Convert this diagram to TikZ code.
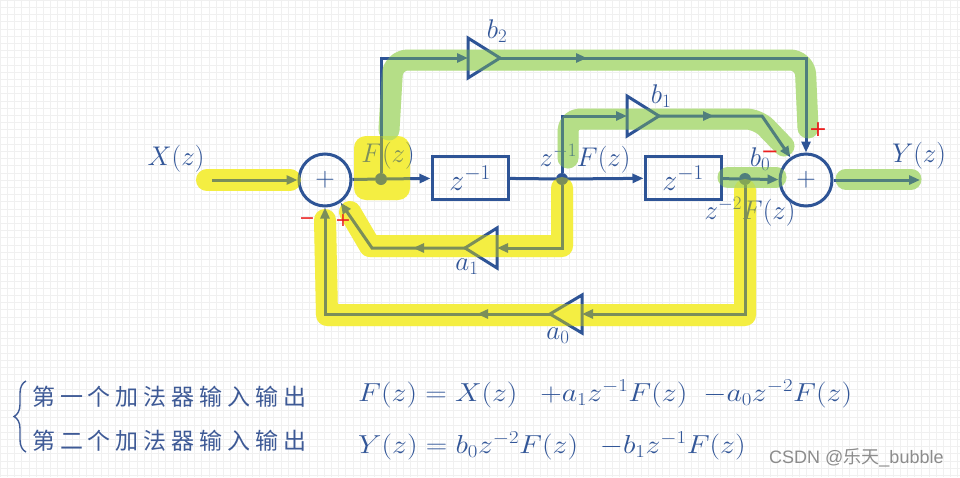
\RequirePackage{fix-cm}
\documentclass[tikz,border=0pt]{standalone}
\usepackage{fontspec}
\newfontfamily\cjk{Noto Sans CJK SC}
\newfontfamily\wmfont{Liberation Sans}
\newfontfamily\djv{DejaVu Sans}
\usetikzlibrary{arrows.meta,decorations.markings,decorations.pathreplacing,calc}
\definecolor{lb}{RGB}{46,84,150}
\definecolor{tb}{RGB}{50,86,152}
\definecolor{hyu}{RGB}{247,244,110}
\definecolor{hyo}{RGB}{240,230,0}
\definecolor{hgu}{RGB}{200,230,165}
\definecolor{hgo}{RGB}{146,208,80}
\definecolor{rd}{RGB}{235,30,30}
\definecolor{ct}{RGB}{62,90,150}
\definecolor{gridc}{RGB}{240,240,240}
\newcommand\gapc{\hspace{4.9pt}}
% highlight paths, drawn once under and once over the signal lines
\newcommand\yellowpaths[2]{%
  \draw[draw=#1,opacity=#2,line width=22pt,line cap=round,line join=round] (207,180) -- (290,180);
  \fill[#1,opacity=#2,rounded corners=12pt] (354,136) rectangle (410,200);
  \draw[draw=#1,opacity=#2,line width=22pt,line cap=round,line join=round] (562,188) -- (562,246) -- (370,246) -- (350,212);
  \draw[draw=#1,opacity=#2,line width=22pt,line cap=round,line join=round] (745,190) -- (745,315) -- (327,315) -- (325,220);}
\newcommand\greenpaths[2]{%
  \draw[draw=#1,opacity=#2,line width=21pt,line cap=round,line join=round,rounded corners=15pt] (389,130) -- (393,60) -- (805,60) -- (808,128);
  \draw[draw=#1,opacity=#2,line width=21pt,line cap=round,line join=round,rounded corners=12pt] (568,158) -- (568,119) -- (758,119) -- (784,146);
  \draw[draw=#1,opacity=#2,line width=21pt,line cap=round] (728,177) -- (776,177);
  \draw[draw=#1,opacity=#2,line width=21pt,line cap=round] (846,179) -- (911,179);}
\begin{document}
\begin{tikzpicture}[x=1pt,y=-1pt,
  sig/.style={draw=lb,line width=3pt},
  arw/.style={-{Triangle[length=11pt,width=9pt]}},
  marr/.style={postaction={decorate,decoration={markings,mark=at position #1 with {\arrow{Triangle[length=11pt,width=9pt]}}}}},
  adder/.style={circle,draw=lb,line width=3pt,minimum size=52pt,inner sep=0pt,text=lb,font=\fontsize{27}{27}\selectfont},
  delay/.style={draw=lb,line width=3pt,minimum width=76pt,minimum height=43pt,inner sep=0pt,font=\fontsize{30}{30}\selectfont,text=tb},
  dotn/.style={circle,fill=lb,minimum size=12pt,inner sep=0pt},
  lbl/.style={text=tb,font=\fontsize{27}{27}\selectfont,inner sep=0pt},
  sgn/.style={text=rd,inner sep=0pt},
  gain/.style={draw=lb,line width=3pt,line join=miter}
]
\useasboundingbox (0,0) rectangle (960,477);
\fill[white] (0,0) rectangle (960,477);
\foreach \i in {0,...,134} {\draw[gridc,line width=0.6pt] (\i*7.2,0) -- (\i*7.2,477);}
\foreach \j in {0,...,66} {\draw[gridc,line width=0.6pt] (0,\j*7.2) -- (960,\j*7.2);}

% highlight underlay
\yellowpaths{hyu}{1}
\greenpaths{hgu}{1}

% main nodes
\node[adder] (s1) at (325,180) {$+$};
\node[adder] (s2) at (806,180) {$+$};
\node[delay] (d1) at (470,178) {$z^{-1}$};
\node[delay] (d2) at (683,178) {$z^{-1}$};
\node[dotn] (dF) at (381,179) {};
\node[dotn] (k1) at (562,179) {};
\node[dotn] (k2) at (745,179) {};
\coordinate (xin) at (212,180);
\coordinate (yout) at (920,180);

% gain coordinates
\coordinate (b2in) at (468,58);  \coordinate (b2out) at (500,58);
\coordinate (b1in) at (627,116); \coordinate (b1out) at (659,116);
\coordinate (a1in) at (497,248); \coordinate (a1out) at (465,248);
\coordinate (a0in) at (582,314); \coordinate (a0out) at (550,314);
\coordinate (c1) at (381,58);  \coordinate (c2) at (806,58);
\coordinate (c3) at (562,116); \coordinate (c4) at (762,116);
\coordinate (c5) at (562,248); \coordinate (c6) at (372,248);
\coordinate (c7) at (745,314); \coordinate (c8) at (325,314);

% gain triangles
\draw[gain] ($(b2in)+(0,-20)$) -- (b2out) -- ($(b2in)+(0,20)$) -- cycle;
\draw[gain] ($(b1in)+(0,-20)$) -- (b1out) -- ($(b1in)+(0,20)$) -- cycle;
\draw[gain] ($(a1in)+(0,-20)$) -- (a1out) -- ($(a1in)+(0,20)$) -- cycle;
\draw[gain] ($(a0in)+(0,-19)$) -- (a0out) -- ($(a0in)+(0,19)$) -- cycle;

% main line
\draw[sig,arw] (xin) -- (s1);
\draw[sig] (s1) -- (dF);
\draw[sig,arw] (dF) -- (d1);
\draw[sig] (d1) -- (k1);
\draw[sig,arw] (k1) -- (d2);
\draw[sig] (d2) -- (k2);
\draw[sig,arw] (k2) -- (s2);
\draw[sig,arw] (s2) -- (yout);

% forward branches
\draw[sig,arw] (dF) -- (c1) -- (b2in);
\draw[sig,arw,marr=87pt] (b2out) -- (c2) -- (s2);
\draw[sig,arw] (k1) -- (c3) -- (b1in);
\draw[sig,arw,marr=55pt] (b1out) -- (c4) -- (s2);

% feedback branches
\draw[sig,arw] (k1) -- (c5) -- (a1in);
\draw[sig,arw,marr=52pt] (a1out) -- (c6) -- (s1);
\draw[sig,arw] (k2) -- (c7) -- (a0in);
\draw[sig,arw,marr=73pt] (a0out) -- (c8) -- (s1);

% labels
\node[lbl] (lX) at (176,159) {$X(z)$};
\node[lbl] (lF) at (388,156) {$F(z)$};
\node[lbl] (lk1) at (585,159) {$z^{-1}F(z)$};
\node[lbl] (lk2) at (750,212) {$z^{-2}F(z)$};
\node[lbl] (lY) at (919,156) {$Y(z)$};
\node[lbl] (lb2) at (497,31) {$b_2$};
\node[lbl] (lb1) at (661,96) {$b_1$};
\node[lbl] (lb0) at (760,159) {$b_0$};
\node[lbl] (la1) at (467,267) {$a_1$};
\node[lbl] (la0) at (558,336) {$a_0$};

% highlight overlay
\yellowpaths{hyo}{0.4}
\greenpaths{hgo}{0.35}

% signs
\node[sgn,font=\djv\fontsize{19}{19}\selectfont] (m1) at (307,221) {−};
\node[sgn,font=\djv\fontsize{19}{19}\selectfont] (p1) at (343,221) {+};
\node[sgn,font=\djv\fontsize{22}{22}\selectfont] (p2) at (818,130) {+};
\node[sgn,font=\djv\fontsize{21}{21}\selectfont] (m2) at (770,155) {−};

% equations
\draw[decorate,decoration={brace,amplitude=12pt},draw=ct,line width=1.4pt] (26,452) -- (26,381);
\node[anchor=west,inner sep=0pt,text=ct,font=\cjk\fontsize{23}{23}\selectfont] (t1) at (32,397)
  {第\gapc 一\gapc 个\gapc 加\gapc 法\gapc 器\gapc 输\gapc 入\gapc 输\gapc 出};
\node[anchor=west,inner sep=0pt,text=ct,font=\cjk\fontsize{23}{23}\selectfont] (t2) at (32,441)
  {第\gapc 二\gapc 个\gapc 加\gapc 法\gapc 器\gapc 输\gapc 入\gapc 输\gapc 出};
\node[anchor=west,inner sep=0pt,text=tb,font=\fontsize{26}{26}\selectfont] (e1) at (358,394)
  {\scalebox{1.145}[1]{$F(z)=X(z)\hspace{20pt}{+}a_1z^{-1}F(z)\hspace{14pt}{-}a_0z^{-2}F(z)$}};
\node[anchor=west,inner sep=0pt,text=tb,font=\fontsize{26}{26}\selectfont] (e2) at (358,446)
  {\scalebox{1.145}[1]{$Y(z)=b_0z^{-2}F(z)\hspace{19pt}{-}b_1z^{-1}F(z)$}};

% watermark
\node[anchor=west,inner sep=0pt,text=black!45,font=\fontsize{18}{18}\selectfont] (wm) at (769,458)
  {\wmfont CSDN @{\cjk 乐天}\_bubble};
\end{tikzpicture}
\end{document}
